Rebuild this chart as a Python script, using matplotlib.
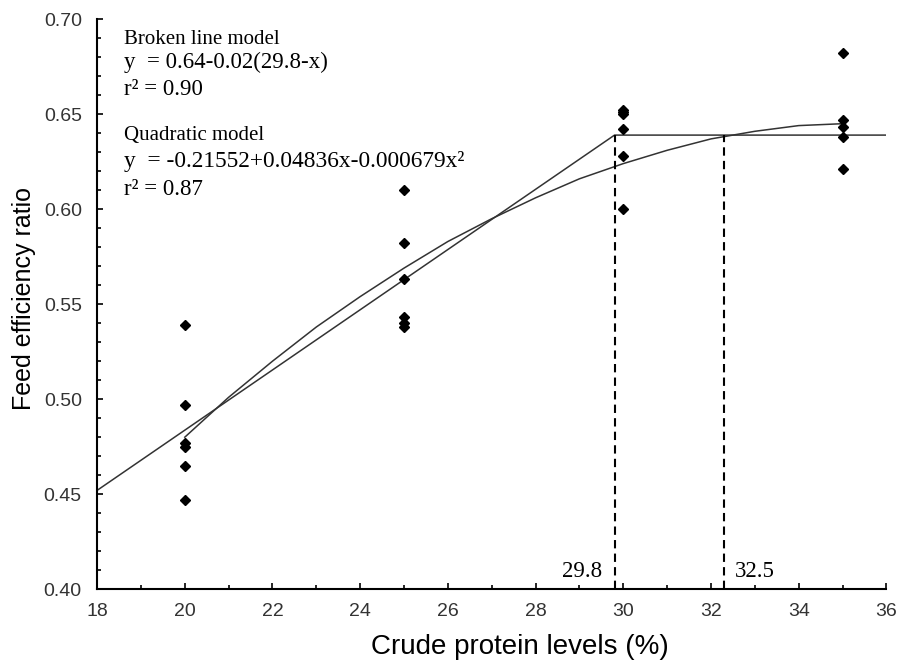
import matplotlib
matplotlib.use("Agg")
import matplotlib.pyplot as plt
from matplotlib.ticker import MultipleLocator, FormatStrFormatter

# observed feed efficiency ratio at each crude protein level
x20 = [20, 20, 20, 20, 20, 20]
y20 = [0.539, 0.497, 0.477, 0.475, 0.465, 0.447]
x25 = [25, 25, 25, 25, 25, 25]
y25 = [0.610, 0.582, 0.563, 0.543, 0.540, 0.538]
x30 = [30, 30, 30, 30, 30, 30]
y30 = [0.652, 0.651, 0.650, 0.642, 0.628, 0.600]
x35 = [35, 35, 35, 35, 35]
y35 = [0.682, 0.647, 0.643, 0.638, 0.621]

# fitted curves
broken_x = [18, 29.8, 36]
broken_y = [0.452, 0.639, 0.639]
quad_x = [20, 21, 22, 23, 24, 25, 26, 27, 28, 29, 30, 31, 32, 33, 34, 35]
quad_y = [0.480, 0.501, 0.520, 0.538, 0.554, 0.569, 0.583, 0.595, 0.606,
          0.616, 0.624, 0.631, 0.637, 0.641, 0.644, 0.645]

breaks = [29.8, 32.3]
break_labels = ["29.8", "32.5"]
plateau = 0.639

fig = plt.figure(figsize=(8.99, 6.62), dpi=100)
ax = fig.add_axes([0.108, 0.110, 0.878, 0.861])

ax.plot(broken_x, broken_y, color="#333333", lw=1.1)
ax.plot(quad_x, quad_y, color="#333333", lw=1.1)
for xs, ys in [(x20, y20), (x25, y25), (x30, y30), (x35, y35)]:
    ax.plot(xs, ys, "D", color="black", ms=5.5, ls="none")

for b in breaks:
    ax.plot([b, b], [0.40, plateau], color="black", lw=1.5, ls=(0, (4, 2.5)))

serif = "Liberation Serif"
ax.text(breaks[0] - 0.28, 0.404, break_labels[0], ha="right", va="bottom",
        family=serif, fontsize=16.5)
ax.text(breaks[1] + 0.25, 0.404, break_labels[1], ha="left", va="bottom",
        family=serif, fontsize=16.5)

lines = [("Broken line model", 0.6895, 15),
         ("y  = 0.64-0.02(29.8-x)", 0.6770, 16.5),
         ("r² = 0.90", 0.6632, 16.5),
         ("Quadratic model", 0.6390, 15),
         ("y  = -0.21552+0.04836x-0.000679x²", 0.6250, 16.8),
         ("r² = 0.87", 0.6105, 16.5)]
for s, yy, fs in lines:
    ax.text(18.62, yy, s, ha="left", va="center", family=serif, fontsize=fs)

ax.set_xlim(18, 36)
ax.set_ylim(0.40, 0.70)
ax.xaxis.set_major_locator(MultipleLocator(2))
ax.xaxis.set_minor_locator(MultipleLocator(1))
ax.yaxis.set_major_locator(MultipleLocator(0.05))
ax.yaxis.set_minor_locator(MultipleLocator(0.01))
ax.yaxis.set_major_formatter(FormatStrFormatter("%.2f"))
ax.tick_params(which="both", direction="in", width=1.2, color="black",
               labelsize=14, labelcolor="#333333")
ax.tick_params(which="major", length=4)
ax.tick_params(axis="y", which="major", pad=11)
ax.tick_params(axis="x", which="major", pad=10)
ax.tick_params(which="minor", length=3)
for lab in ax.get_xticklabels() + ax.get_yticklabels():
    lab.set_family("Liberation Sans")

ax.spines["top"].set_visible(False)
ax.spines["right"].set_visible(False)
ax.spines["left"].set_linewidth(1.5)
ax.spines["bottom"].set_linewidth(1.5)

ax.set_xlabel("Crude protein levels (%)", family="Liberation Sans", fontsize=20)
ax.xaxis.set_label_coords(0.536, -0.078)
ax.set_ylabel("Feed efficiency ratio", family="Liberation Sans", fontsize=18)
ax.yaxis.set_label_coords(-0.078, 0.51)

fig.savefig("out.png", dpi=100)
